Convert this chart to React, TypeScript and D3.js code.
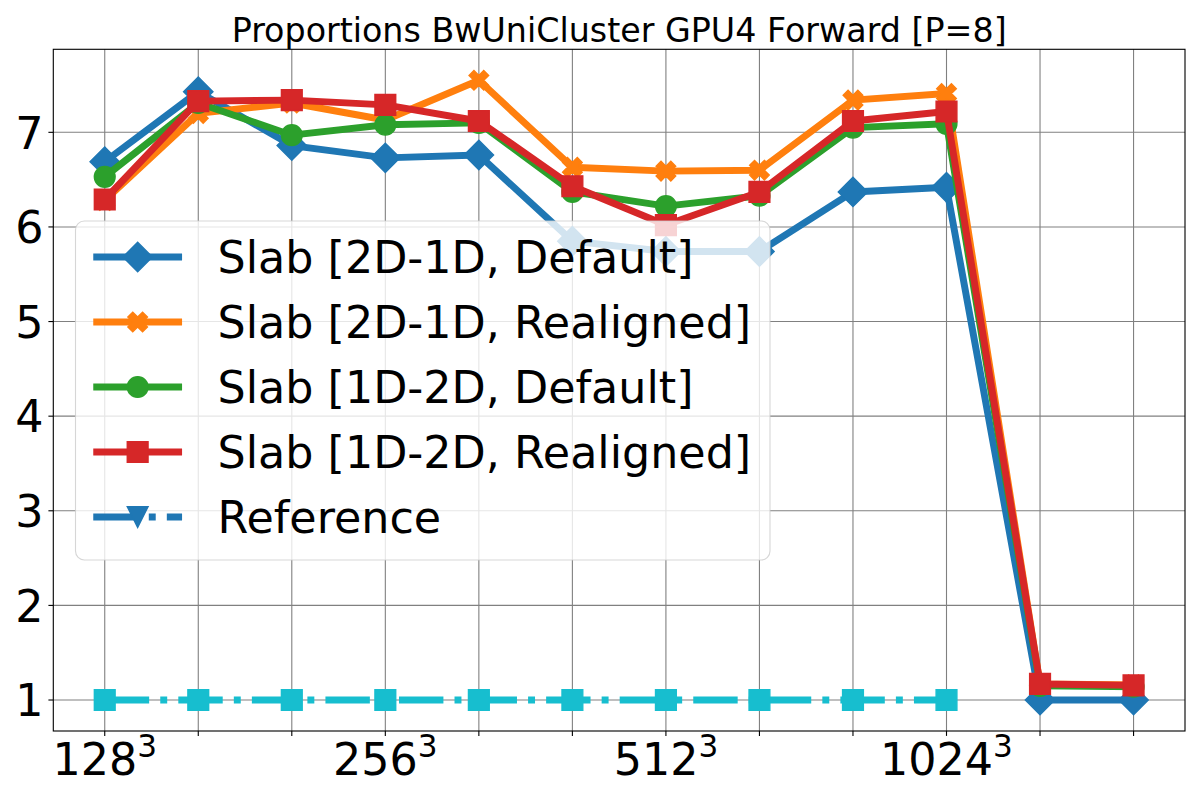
import React from "react";
import * as d3 from "d3";

// ---- Data ----
const categories = d3.range(12);
const xTickLabels = ["128", "", "", "256", "", "", "512", "", "", "1024", "", ""];
const yTicks = [1, 2, 3, 4, 5, 6, 7];

const slab2d1dDefault = [6.69, 7.43, 6.86, 6.73, 6.76, 5.85, 5.74, 5.74, 6.37, 6.42, 1.0, 1.0];
const slab2d1dRealigned = [6.28, 7.2, 7.31, 7.13, 7.55, 6.63, 6.59, 6.6, 7.34, 7.41, 1.17, 1.16];
const slab1d2dDefault = [6.53, 7.31, 6.97, 7.08, 7.1, 6.37, 6.22, 6.33, 7.05, 7.09, 1.15, 1.14];
const slab1d2dRealigned = [6.29, 7.33, 7.34, 7.29, 7.12, 6.43, 6.02, 6.37, 7.12, 7.22, 1.17, 1.155];
const referenceValues = [1, 1, 1, 1, 1, 1, 1, 1, 1, 1];

const seriesLabels = [
  "Slab [2D-1D, Default]",
  "Slab [2D-1D, Realigned]",
  "Slab [1D-2D, Default]",
  "Slab [1D-2D, Realigned]",
  "Reference",
];

const title = "Proportions BwUniCluster GPU4 Forward [P=8]";

// ---- Styles ----
const W = 1200;
const H = 800;
const LW = 6.94;
const MS = 20.8;
const MEW = 1.39;
const FONT = "DejaVu Sans";
const DASHDOT = `${6.4 * LW},${1.6 * LW},${1.0 * LW},${1.6 * LW}`;

type MarkerKind = "D" | "X" | "o" | "s" | "v";

function markerPath(kind: MarkerKind, s: number): string {
  if (kind === "D") {
    const h = (s * Math.SQRT2) / 2;
    return `M0,${-h}L${h},0L0,${h}L${-h},0Z`;
  }
  if (kind === "s") {
    const h = s / 2;
    return `M${-h},${-h}L${h},${-h}L${h},${h}L${-h},${h}Z`;
  }
  if (kind === "o") {
    const r = s / 2;
    return `M${r},0A${r},${r} 0 1,1 ${-r},0A${r},${r} 0 1,1 ${r},0Z`;
  }
  if (kind === "v") {
    const r = s / 2;
    return `M0,${r}L${-r},${-r}L${r},${-r}Z`;
  }
  // filled X
  const pts = [
    [-1, -3], [1, -3], [1, -1], [3, -1], [3, 1], [1, 1],
    [1, 3], [-1, 3], [-1, 1], [-3, 1], [-3, -1], [-1, -1],
  ];
  const c = Math.cos(Math.PI / 4);
  const rot = pts.map(([x, y]) => [
    ((x * c - y * c) / 6) * s,
    ((x * c + y * c) / 6) * s,
  ]);
  return "M" + rot.map((p) => `${p[0]},${p[1]}`).join("L") + "Z";
}

const series = [
  { label: seriesLabels[0], values: slab2d1dDefault, color: "#1f77b4", marker: "D" as MarkerKind, dash: null as string | null },
  { label: seriesLabels[1], values: slab2d1dRealigned, color: "#ff7f0e", marker: "X" as MarkerKind, dash: null },
  { label: seriesLabels[2], values: slab1d2dDefault, color: "#2ca02c", marker: "o" as MarkerKind, dash: null },
  { label: seriesLabels[3], values: slab1d2dRealigned, color: "#d62728", marker: "s" as MarkerKind, dash: null },
];

export default function App() {
  const left = 53.3;
  const right = 1185;
  const top = 49.3;
  const bottom = 731;

  const allVals = [
    ...slab2d1dDefault,
    ...slab2d1dRealigned,
    ...slab1d2dDefault,
    ...slab1d2dRealigned,
    ...referenceValues,
  ];
  const yMin = d3.min(allVals)!;
  const yMax = d3.max(allVals)!;
  const yPad = (yMax - yMin) * 0.05;
  const xPad = (categories.length - 1) * 0.05;

  const x = d3.scaleLinear().domain([-xPad, categories.length - 1 + xPad]).range([left, right]);
  const y = d3.scaleLinear().domain([yMin - yPad, yMax + yPad]).range([bottom, top]);

  const line = d3
    .line<number>()
    .x((_, i) => x(categories[i]))
    .y((d) => y(d));

  // legend layout
  const fs = 44.4;
  const legLeft = left + 0.5 * fs;
  const legTop = 221;
  const legW = 694.5;
  const legH = 339;
  const rowY0 = 257;
  const rowStep = 65;
  const hx0 = legLeft + 0.4 * fs;
  const hx1 = hx0 + 2 * fs;
  const tx = hx1 + 0.8 * fs;

  const legendItems = [
    ...series.map((s) => ({ label: s.label, color: s.color, marker: s.marker, dash: null as string | null })),
    { label: seriesLabels[4], color: "#1f77b4", marker: "v" as MarkerKind, dash: DASHDOT },
  ];

  return (
    <svg
      width={W}
      height={H}
      style={{ position: "absolute", left: 0, top: 0, background: "white" }}
      fontFamily={FONT}
    >
      <rect x={0} y={0} width={W} height={H} fill="white" />
      <defs>
        <clipPath id="plotclip">
          <rect x={left} y={top} width={right - left} height={bottom - top} />
        </clipPath>
      </defs>

      {/* grid */}
      <g stroke="#808080" strokeWidth={1.1}>
        {categories.map((c) => (
          <line key={"gx" + c} x1={x(c)} x2={x(c)} y1={top} y2={bottom} />
        ))}
        {yTicks.map((t) => (
          <line key={"gy" + t} x1={left} x2={right} y1={y(t)} y2={y(t)} />
        ))}
      </g>

      {/* series */}
      <g clipPath="url(#plotclip)">
        {series.map((s) => (
          <g key={s.label}>
            <path
              d={line(s.values)!}
              fill="none"
              stroke={s.color}
              strokeWidth={LW}
              strokeLinejoin="round"
              strokeLinecap="square"
            />
            {s.values.map((v, i) => (
              <path
                key={i}
                d={markerPath(s.marker, MS)}
                transform={`translate(${x(categories[i])},${y(v)})`}
                fill={s.color}
                stroke={s.color}
                strokeWidth={MEW}
              />
            ))}
          </g>
        ))}
        {/* reference */}
        <path
          d={line(referenceValues)!}
          fill="none"
          stroke="#17becf"
          strokeWidth={LW}
          strokeDasharray={DASHDOT}
          strokeLinecap="butt"
        />
        {referenceValues.map((v, i) => (
          <path
            key={"r" + i}
            d={markerPath("s", MS)}
            transform={`translate(${x(categories[i])},${y(v)})`}
            fill="#17becf"
            stroke="#17becf"
            strokeWidth={MEW}
          />
        ))}
      </g>

      {/* spines */}
      <rect x={left} y={top} width={right - left} height={bottom - top} fill="none" stroke="black" strokeWidth={1.11} />

      {/* ticks */}
      <g stroke="black" strokeWidth={1.11}>
        {categories.map((c) => (
          <line key={"tx" + c} x1={x(c)} x2={x(c)} y1={bottom} y2={bottom + 4.9} />
        ))}
        {yTicks.map((t) => (
          <line key={"ty" + t} x1={left - 4.9} x2={left} y1={y(t)} y2={y(t)} />
        ))}
      </g>

      {/* tick labels */}
      <g fontSize={fs} fill="black">
        {yTicks.map((t) => (
          <text key={"ly" + t} x={left - 9.8} y={y(t) + 16.2} textAnchor="end">
            {t}
          </text>
        ))}
        {categories.map((c, i) =>
          xTickLabels[i] ? (
            <text key={"lx" + c} x={x(c)} y={775} textAnchor="middle">
              <tspan>{xTickLabels[i]}</tspan>
              <tspan dy={-18} fontSize={fs * 0.7}>3</tspan>
            </text>
          ) : null
        )}
      </g>

      {/* title */}
      <text x={(left + right) / 2} y={42} textAnchor="middle" fontSize={33.3} fill="black">
        {title}
      </text>

      {/* legend */}
      <g>
        <rect
          x={legLeft}
          y={legTop}
          width={legW}
          height={legH}
          rx={8.9}
          ry={8.9}
          fill="white"
          fillOpacity={0.8}
          stroke="#cccccc"
          strokeOpacity={0.8}
          strokeWidth={1.11}
        />
        {legendItems.map((it, i) => {
          const ry = rowY0 + i * rowStep;
          const cx = (hx0 + hx1) / 2;
          return (
            <g key={it.label}>
              <line
                x1={hx0}
                x2={hx1}
                y1={ry}
                y2={ry}
                stroke={it.color}
                strokeWidth={LW}
                strokeDasharray={it.dash ?? undefined}
                strokeLinecap={it.dash ? "butt" : "butt"}
              />
              <path
                d={markerPath(it.marker, MS)}
                transform={`translate(${cx},${ry})`}
                fill={it.color}
                stroke={it.color}
                strokeWidth={MEW}
              />
              <text x={tx} y={ry + 16} fontSize={fs} fill="black">
                {it.label}
              </text>
            </g>
          );
        })}
      </g>
    </svg>
  );
}
